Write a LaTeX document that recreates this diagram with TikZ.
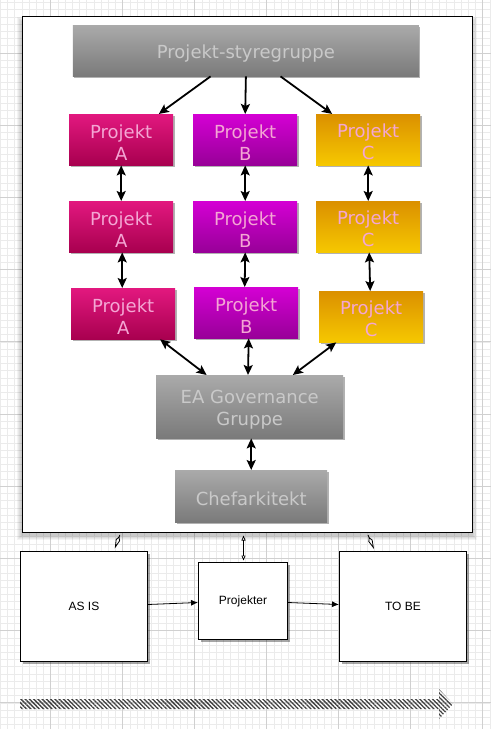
\documentclass[tikz,border=0pt]{standalone}
\usepackage{fontspec}
\setmainfont{DejaVu Sans}
\newfontfamily\arialfont{Liberation Sans}
\usetikzlibrary{arrows.meta,shadows,patterns.meta,calc}
\definecolor{greyT}{HTML}{AAAAAA}
\definecolor{greyB}{HTML}{7A7A7A}
\definecolor{greyTxt}{HTML}{C9C9C9}
\definecolor{aT}{HTML}{E2187F}
\definecolor{aB}{HTML}{A8004F}
\definecolor{bT}{HTML}{D400D4}
\definecolor{bB}{HTML}{980098}
\definecolor{cT}{HTML}{DB9000}
\definecolor{cB}{HTML}{F6C800}
\definecolor{pinkTxt}{HTML}{F4A6D4}
\definecolor{gridMinor}{HTML}{EBEBEB}
\definecolor{gridMajor}{HTML}{D0D0D0}
\newcommand\lowr[1]{\raisebox{-2.5pt}[\height][\depth]{#1}}
\begin{document}
\begin{tikzpicture}[x=1pt,y=-1pt,
  box/.style={anchor=north west, inner sep=0pt, align=center,
    font=\fontsize{18}{22}\selectfont,
    drop shadow={shadow xshift=1.5pt,shadow yshift=-1.5pt,opacity=0.3,fill=black}},
  greybox/.style={box, top color=greyT, bottom color=greyB, text=greyTxt},
  pbox/.style={box, minimum width=104pt, minimum height=51pt, text=pinkTxt},
  boxA/.style={pbox, top color=aT, bottom color=aB},
  boxB/.style={pbox, top color=bT, bottom color=bB},
  boxC/.style={pbox, top color=cT, bottom color=cB},
  wbox/.style={anchor=north west, draw=black, line width=1pt, fill=white, inner sep=0pt,
    font=\arialfont\fontsize{12}{14}\selectfont,
    drop shadow={shadow xshift=2pt,shadow yshift=-2.5pt,opacity=0.35,fill=black}},
  harrow/.style={line width=1.8pt, -{Stealth[length=10pt,width=9pt,inset=2pt]}},
  dharrow/.style={line width=1.8pt, {Stealth[length=10pt,width=9pt,inset=2pt]}-{Stealth[length=10pt,width=9pt,inset=2pt]}},
  thinarrow/.style={line width=0.8pt, -{Latex[length=7pt,width=6pt]}},
  openarrow/.style={line width=0.7pt, {Triangle[open,length=5pt,width=4pt]}-{Triangle[open,length=5pt,width=4pt]}},
  kitearrow/.style={line width=0.8pt, -{Kite[open,length=13pt,width=4.5pt,inset=4pt]}}
]
\useasboundingbox (0,0) rectangle (491,729);
\fill[white] (0,0) rectangle (491,729);
% grid
\foreach \k in {-7,...,62} {
  \draw[gridMinor, line width=0.6pt] ({50.7+7.2*\k},0) -- ++(0,729);
}
\foreach \k in {-8,...,94} {
  \draw[gridMinor, line width=0.6pt] (0,{53+7.22*\k}) -- ++(491,0);
}
\foreach \k in {-1,...,6} {
  \draw[gridMajor, line width=0.8pt] ({50.7+72*\k},0) -- ++(0,729);
}
\foreach \k in {-1,...,9} {
  \draw[gridMajor, line width=0.8pt] (0,{53+72.2*\k}) -- ++(491,0);
}
% frame shadow
\foreach \i in {1,...,5} {
  \fill[black, opacity=0.045] ({22-\i},{16+6-\i}) rectangle ({472+\i},{532+3+\i});
}
\node[anchor=north west, draw=black, line width=1pt, fill=white, inner sep=0pt,
  minimum width=450pt, minimum height=516pt] (frame) at (22,16) {};

% top box
\node[greybox, minimum width=346pt, minimum height=51pt] (sg) at (72.7,25) {\lowr{Projekt-styregruppe}};

% project rows
\node[boxA] (a1) at (69,114) {\lowr{Projekt}\\\lowr{A}};
\node[boxB] (b1) at (193,114) {\lowr{Projekt}\\\lowr{B}};
\node[boxC] (c1) at (316,114) {\lowr{Projekt}\\\lowr{C}};
\node[boxA] (a2) at (69,201) {\lowr{Projekt}\\\lowr{A}};
\node[boxB] (b2) at (193,201) {\lowr{Projekt}\\\lowr{B}};
\node[boxC] (c2) at (316,201) {\lowr{Projekt}\\\lowr{C}};
\node[boxA] (a3) at (71,288) {\lowr{Projekt}\\\lowr{A}};
\node[boxB] (b3) at (194,287) {\lowr{Projekt}\\\lowr{B}};
\node[boxC] (c3) at (319,291) {\lowr{Projekt}\\\lowr{C}};

\node[greybox, minimum width=187pt, minimum height=63pt] (ea) at (156,375) {\lowr{EA Governance}\\\lowr{Gruppe}};
\node[greybox, minimum width=152pt, minimum height=52pt] (chef) at (175,470) {\lowr{Chefarkitekt}};

% arrows from steering group
\draw[harrow] ($(sg.south west)!0.398!(sg.south east)$) -- ($(a1.north west)!0.86!(a1.north east)$);
\draw[harrow] ($(sg.south west)!0.5!(sg.south east)$) -- (b1.north);
\draw[harrow] ($(sg.south west)!0.60!(sg.south east)$) -- ($(c1.north west)!0.155!(c1.north east)$);

% between rows
\draw[dharrow] (a1.south) -- (a2.north);
\draw[dharrow] (b1.south) -- (b2.north);
\draw[dharrow] (c1.south) -- (c2.north);
\draw[dharrow] ($(a2.south)+(1,0)$) -- ($(a3.north)+(-1,0)$);
\draw[dharrow] (b2.south) -- ($(b3.north)+(-1.5,0)$);
\draw[dharrow] ($(c2.south)+(1,0)$) -- ($(c3.north)+(-1,0)$);

% to EA
\draw[dharrow] ($(a3.south west)!0.854!(a3.south east)$) -- ($(ea.north west)!0.27!(ea.north east)$);
\draw[dharrow] ($(b3.south)+(2.5,0)$) -- ($(ea.north west)+(92,0)$);
\draw[dharrow] ($(c3.south west)!0.165!(c3.south east)$) -- ($(ea.north west)!0.73!(ea.north east)$);
\draw[dharrow] ($(ea.south)+(1.5,0)$) -- ($(chef.north)+(0,0)$);

% bottom boxes
\node[wbox, minimum width=127pt, minimum height=110pt] (asis) at (20,551) {AS IS};
\node[wbox, minimum width=89pt, minimum height=77pt] (proj) at (198,562) {Projekter};
\node[wbox, minimum width=127pt, minimum height=110pt] (tobe) at (339,551) {TO BE};

\draw[thinarrow] ($(asis.east)+(0,-2)$) -- ($(proj.west)+(0,1.5)$);
\draw[thinarrow] ($(proj.east)+(0,1.5)$) -- ($(tobe.west)+(0,-2)$);

% small connectors to frame
\draw[openarrow] ($(proj.north)+(0.5,-1.5)$) -- ($(frame.south -| proj.north)+(0.5,2.5)$);
\draw[kitearrow] ($(frame.south west)+(97.8,2)$) -- ($(asis.north west)+(94.8,-2.5)$);
\draw[kitearrow] ($(frame.south west)+(346,2)$) -- ($(tobe.north west)+(35,-2)$);

% hatched time arrow
\fill[pattern={Lines[angle=-45,distance=3pt,line width=1.3pt]}, pattern color=black!75]
  (20,699) -- (439,699) -- (439,689) -- (453,704) -- (439,719) -- (439,709) -- (20,709) -- cycle;
\end{tikzpicture}
\end{document}
